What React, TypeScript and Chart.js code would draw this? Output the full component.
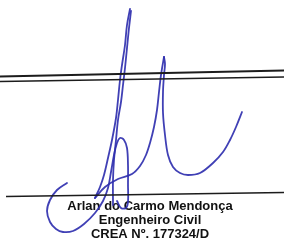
import React, { useEffect, useRef } from 'react';
import { Chart, registerables } from 'chart.js';

Chart.register(...registerables);

// Page-space extent of the drawing (x to the right, y downward)
const X_MAX = 284;
const Y_MAX = 242;

// Printed rules
const ruleTop1X = [0, 284];
const ruleTop1Y = [76.5, 70.5];
const ruleTop2X = [0, 284];
const ruleTop2Y = [81.5, 77];
const ruleSignX = [6, 284];
const ruleSignY = [196.5, 192.5];

// Signature strokes
const loopX = [67, 57, 50, 47, 50, 56, 63, 73, 84, 95, 103, 108, 111, 114, 117, 120, 124, 127, 128, 128, 128, 126, 121, 117];
const loopY = [183, 190, 200, 211, 222, 229, 232, 231, 224, 213, 201, 188, 172, 155, 143, 138, 140, 148, 165, 185, 202, 208, 208, 201];

const innerX = [113, 113, 114, 116, 118, 121, 123, 125, 127, 129, 131];
const innerY = [205, 180, 160, 140, 120, 102, 85, 68, 48, 28, 11];

const outerX = [130, 127, 125, 122, 120, 118, 116, 112, 108, 104, 100, 95];
const outerY = [9, 25, 45, 65, 80, 100, 118, 140, 158, 175, 187, 198];

const barX = [95, 105, 118, 132, 140, 146, 150, 154, 157, 159, 161, 164];
const barY = [198, 187, 179, 174, 166, 155, 143, 127, 110, 92, 75, 57];

const curveX = [164, 165, 164, 163, 163, 165, 168, 173, 180, 188, 200, 213, 223, 230, 236, 242];
const curveY = [57, 64, 75, 92, 113, 135, 155, 167, 173, 175, 173, 163, 152, 140, 127, 112];

// Caption
const captionLines = ['Arlan do Carmo Mendonça', 'Engenheiro Civil', 'CREA Nº. 177324/D'];
const captionCenterX = 150;
const captionBaselines = [210, 224, 238];

const INK = 'rgba(48, 48, 175, 0.92)';
const RULE = '#1c1c1c';

const pts = (xs: number[], ys: number[]) => xs.map((x, i) => ({ x, y: ys[i] }));

const captionPlugin = {
  id: 'caption',
  beforeDatasetsDraw(chart: any) {
    const { ctx, scales } = chart;
    ctx.save();
    ctx.fillStyle = '#111';
    ctx.font = 'bold 13px "Liberation Sans", Arial, sans-serif';
    ctx.textAlign = 'center';
    ctx.textBaseline = 'alphabetic';
    captionLines.forEach((t, i) => {
      ctx.fillText(t, scales.x.getPixelForValue(captionCenterX), scales.y.getPixelForValue(captionBaselines[i]));
    });
    ctx.restore();
  },
};

export default function App() {
  const ref = useRef<HTMLCanvasElement | null>(null);

  useEffect(() => {
    document.body.style.margin = '0';
    const canvas = ref.current;
    if (!canvas) return;
    const rule = (xs: number[], ys: number[], w: number) => ({
      data: pts(xs, ys),
      borderColor: RULE,
      borderWidth: w,
      pointRadius: 0,
      tension: 0,
      fill: false,
      clip: false as any,
    });
    const ink = (xs: number[], ys: number[]) => ({
      data: pts(xs, ys),
      borderColor: INK,
      borderWidth: 1.8,
      pointRadius: 0,
      tension: 0.35,
      fill: false,
      clip: false as any,
      borderCapStyle: 'round' as const,
      borderJoinStyle: 'round' as const,
    });
    const chart = new Chart(canvas, {
      type: 'line',
      data: {
        datasets: [
          rule(ruleTop1X, ruleTop1Y, 2),
          rule(ruleTop2X, ruleTop2Y, 1.6),
          rule(ruleSignX, ruleSignY, 1.5),
          ink(loopX, loopY),
          ink(innerX, innerY),
          ink(outerX, outerY),
          ink(barX, barY),
          ink(curveX, curveY),
        ] as any,
      },
      options: {
        responsive: false,
        maintainAspectRatio: false,
        animation: false,
        events: [],
        devicePixelRatio: 1,
        layout: { padding: 0 },
        plugins: { legend: { display: false }, tooltip: { enabled: false }, title: { display: false } },
        scales: {
          x: { type: 'linear', min: 0, max: X_MAX, display: false },
          y: { type: 'linear', min: 0, max: Y_MAX, reverse: true, display: false },
        },
      },
      plugins: [captionPlugin],
    });
    return () => chart.destroy();
  }, []);

  return (
    <div style={{ width: X_MAX, height: Y_MAX, background: '#fff' }}>
      <canvas ref={ref} width={X_MAX} height={Y_MAX} style={{ display: 'block' }} />
    </div>
  );
}
